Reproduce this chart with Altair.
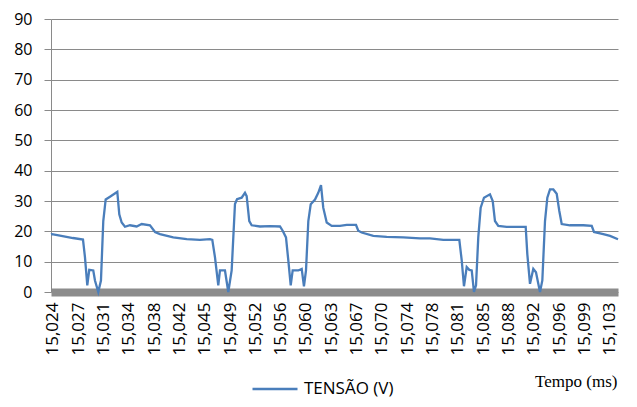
import altair as alt
import pandas as pd

# Time (ms) and voltage (V)
tempo_ms = [
    15.02332, 15.02346, 15.02459, 15.02644, 15.02786, 15.02814, 15.02847, 15.02875,
    15.02932, 15.02956, 15.03003, 15.03041, 15.03074, 15.03108, 15.03169, 15.03254,
    15.03273, 15.03301, 15.03335, 15.03382, 15.03453, 15.03548, 15.03619, 15.03737,
    15.03808, 15.03879, 15.04067, 15.04258, 15.04446, 15.04588, 15.04621, 15.04659,
    15.04706, 15.04730, 15.04801, 15.04848, 15.04896, 15.04943, 15.04972, 15.05038,
    15.05085, 15.05109, 15.05146, 15.05180, 15.05298, 15.05440, 15.05582, 15.05620,
    15.05667, 15.05700, 15.05734, 15.05762, 15.05842, 15.05890, 15.05922, 15.05951,
    15.05984, 15.06018, 15.06079, 15.06125, 15.06164, 15.06196, 15.06245, 15.06316,
    15.06433, 15.06529, 15.06661, 15.06693, 15.06741, 15.06906, 15.07096, 15.07332,
    15.07569, 15.07711, 15.07900, 15.08127, 15.08161, 15.08193, 15.08232, 15.08269,
    15.08303, 15.08335, 15.08364, 15.08396, 15.08430, 15.08477, 15.08562, 15.08601,
    15.08633, 15.08680, 15.08799, 15.08941, 15.09069, 15.09092, 15.09130, 15.09177,
    15.09215, 15.09248, 15.09272, 15.09305, 15.09343, 15.09376, 15.09414, 15.09461,
    15.09509, 15.09546, 15.09580, 15.09698, 15.09887, 15.10006, 15.10038, 15.10170,
    15.10266, 15.10379,
]
tensao_v = [
    19.0, 19.1, 18.6, 17.8, 17.3, 11.5, 2.2, 7.3,
    7.1, 3.8, 0.0, 3.8, 23.4, 30.5, 31.4, 32.7,
    33.0, 25.6, 22.9, 21.5, 22.0, 21.6, 22.4, 22.0,
    19.8, 19.1, 18.0, 17.4, 17.2, 17.4, 17.2, 11.5,
    2.2, 7.1, 7.1, 0.0, 7.1, 29.0, 30.6, 31.1,
    32.7, 31.6, 23.4, 22.0, 21.6, 21.7, 21.6, 20.2,
    18.0, 10.4, 2.2, 7.1, 7.1, 7.6, 1.9, 7.1,
    23.4, 28.9, 30.5, 32.7, 35.2, 27.8, 22.9, 21.8,
    21.8, 22.1, 22.1, 20.2, 19.6, 18.5, 18.2, 18.0,
    17.7, 17.7, 17.2, 17.2, 10.4, 1.9, 8.2, 7.3,
    7.1, 0.0, 2.2, 18.0, 27.8, 31.1, 32.2, 30.0,
    23.4, 21.8, 21.5, 21.5, 21.5, 12.5, 2.7, 7.6,
    6.5, 2.7, 0.0, 3.8, 23.4, 31.1, 33.8, 33.8,
    32.4, 26.7, 22.4, 22.0, 22.0, 21.8, 19.8, 19.1,
    18.5, 17.4,
]

tick_labels = [
    "15,024", "15,027", "15,031", "15,034", "15,038", "15,042", "15,045", "15,049",
    "15,052", "15,056", "15,060", "15,063", "15,067", "15,070", "15,074", "15,078",
    "15,081", "15,085", "15,088", "15,092", "15,096", "15,099", "15,103",
]
y_ticks = [0, 10, 20, 30, 40, 50, 60, 70, 80, 90]

t0 = 15.0236
step = 0.0035909
tick_values = [round(t0 + k * step, 6) for k in range(len(tick_labels))]
label_array = "[" + ",".join("'" + s + "'" for s in tick_labels) + "]"
label_expr = f"{label_array}[round((datum.value - {t0}) / {step})]"

df = pd.DataFrame({"tempo": tempo_ms, "tensao": tensao_v, "serie": "TENSÃO (V)"})

FONT = "Open Sans"
GRID = "#8a8a8a"

line = alt.Chart(df).mark_line(strokeWidth=2.3, interpolate="linear").encode(
    x=alt.X(
        "tempo:Q",
        scale=alt.Scale(domain=[15.02332, 15.10379], nice=False, zero=False),
        axis=alt.Axis(
            values=tick_values,
            labelExpr=label_expr,
            labelAngle=-90,
            labelAlign="right",
            labelBaseline="middle",
            labelPadding=10,
            labelFont=FONT,
            labelFontSize=17,
            labelColor="#000000",
            labelOverlap=False,
            labelFlush=False,
            ticks=False,
            grid=False,
            domainColor="#8c8c8c",
            domainWidth=8,
            zindex=0,
            title="Tempo (ms)",
            titleFont="Liberation Serif",
            titleFontSize=17,
            titleFontWeight="normal",
            titleColor="#000000",
            titleAlign="right",
            titleBaseline="middle",
            titleAnchor="end",
            titleX=566,
            titleY=89,
        ),
    ),
    y=alt.Y(
        "tensao:Q",
        scale=alt.Scale(domain=[0, 90], nice=False, zero=True),
        axis=alt.Axis(
            values=y_ticks,
            labelFont=FONT,
            labelFontSize=16,
            labelColor="#000000",
            labelPadding=12,
            tickSize=7,
            tickColor=GRID,
            domainColor=GRID,
            gridColor=GRID,
            gridWidth=1,
            title=None,
            zindex=0,
        ),
    ),
    color=alt.Color(
        "serie:N",
        scale=alt.Scale(range=["#4a7ebb"]),
        legend=alt.Legend(
            title=None,
            orient="none",
            legendX=200,
            legendY=346,
            symbolType="stroke",
            symbolStrokeWidth=2.5,
            symbolSize=2025,
            labelFont=FONT,
            labelFontSize=17,
            labelColor="#000000",
            labelOffset=5,
        ),
    ),
)

chart = line.properties(
    width=567,
    height=273,
    padding={"left": 43, "top": 11, "right": 11, "bottom": 107},
    autosize=alt.AutoSizeParams(type="none"),
    background="#ffffff",
).configure_view(stroke=None)

chart.save("out.html", embed_options={"renderer": "svg", "actions": False})
